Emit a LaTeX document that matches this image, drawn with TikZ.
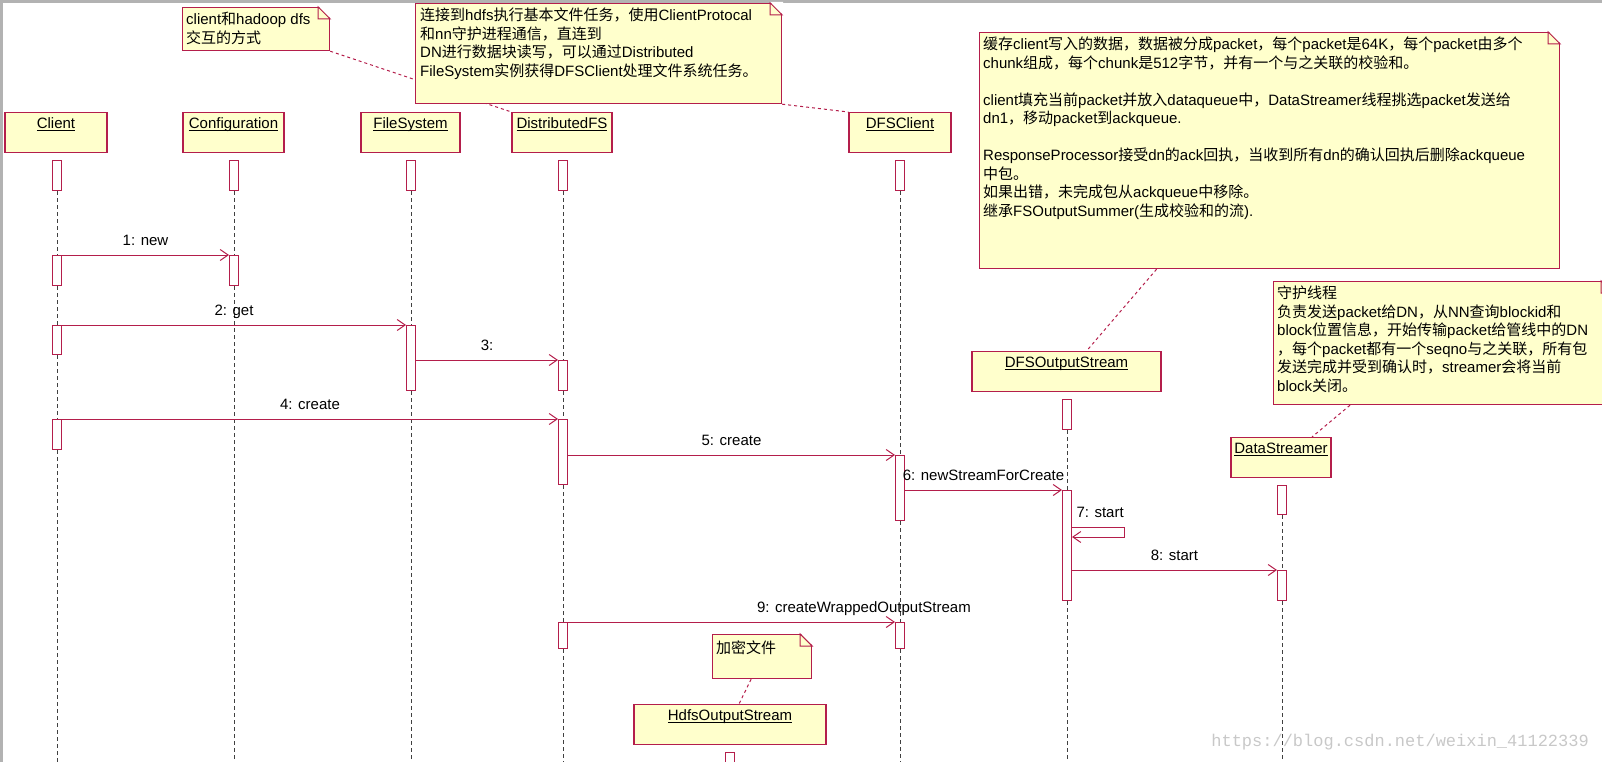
\documentclass[tikz,border=0pt]{standalone}
\usepackage{fontspec}
\setmainfont{Liberation Sans}
\newfontfamily\cjk{Noto Sans CJK SC}
\newfontfamily\latn{Liberation Sans}
\newfontfamily\wmfont{Liberation Mono}
\usepackage{xcolor}
\usepackage{tikz}
\usetikzlibrary{arrows.meta,calc}

% Chinese characters go to the CJK font, the rest stays Arial-like
\newXeTeXintercharclass\cjkclass
\newcount\cjkcount
\def\cjkrange#1#2{\cjkcount=#1\relax
  \loop\XeTeXcharclass\cjkcount=\cjkclass
  \advance\cjkcount by 1\relax
  \ifnum\cjkcount<#2\repeat}
\cjkrange{"3000}{"3040}
\cjkrange{"4E00}{"A000}
\cjkrange{"FF00}{"FFF0}
\XeTeXinterchartoks 0 \cjkclass = {\cjk}
\XeTeXinterchartoks 4095 \cjkclass = {\cjk}
\XeTeXinterchartoks \cjkclass 0 = {\latn}
\XeTeXinterchartoks \cjkclass 4095 = {\latn}
\XeTeXinterchartokenstate=1

\definecolor{umlred}{RGB}{180,30,75}
\definecolor{noteyellow}{RGB}{255,255,204}
\definecolor{wmgray}{RGB}{200,200,200}
\newcommand{\umlfont}{\fontsize{15pt}{18.5pt}\selectfont}

\begin{document}
\begin{tikzpicture}[x=1pt, y=-1pt,
    objhead/.style={draw=umlred, fill=noteyellow, line width=1.2pt, anchor=north, inner sep=0pt,
        minimum height=40pt, text height=16pt, text depth=24pt, font=\umlfont},
    act/.style={draw=umlred, fill=white, line width=1pt, anchor=north, inner sep=0pt, minimum width=9pt},
    life/.style={draw=black!75, line width=1pt, dash pattern=on 3.5pt off 3.5pt},
    msg/.style={draw=umlred, line width=1pt, -{Straight Barb[length=8pt,width=11pt]}},
    msglabel/.style={above=5pt, inner sep=1pt, text height=11pt, text depth=3pt, font=\umlfont, text=black},
    umlnote/.style={draw=umlred, fill=noteyellow, line width=1.2pt, anchor=north west, inner sep=0pt},
    notetext/.style={anchor=north west, align=left, inner sep=0pt, font=\umlfont},
    notelink/.style={draw=umlred, line width=1pt, dash pattern=on 3pt off 3pt}]
    \useasboundingbox (0,0) rectangle (1602,762);
    \coordinate (bot) at (0,770);

    % Window frame
    \draw[gray!60, line width=3pt] (1.5,762) -- (1.5,1.5) -- (1602,1.5);

    % Object heads
    \node[objhead, minimum width=102pt] (hCL) at (56,112) {\underline{\smash{Client}}};
    \node[objhead, minimum width=101pt] (hCF) at (233.5,112) {\underline{\smash{Configuration}}};
    \node[objhead, minimum width=99pt] (hFS) at (410.5,112) {\underline{\smash{FileSystem}}};
    \node[objhead, minimum width=100pt] (hDF) at (562,112) {\underline{\smash{DistributedFS}}};
    \node[objhead, minimum width=102pt] (hDC) at (900,112) {\underline{\smash{DFSClient}}};
    \node[objhead, minimum width=189pt] (hOS) at (1066.5,351) {\underline{\smash{DFSOutputStream}}};
    \node[objhead, minimum width=100pt] (hDS) at (1281,437) {\underline{\smash{DataStreamer}}};
    \node[objhead, minimum width=192pt] (hHO) at (730,704) {\underline{\smash{HdfsOutputStream}}};

    % Activations
    \node[act, minimum height=30pt] (cl0) at (57,160) {};
    \node[act, minimum height=30pt] (cl1) at (57,255) {};
    \node[act, minimum height=29pt] (cl2) at (57,325) {};
    \node[act, minimum height=30pt] (cl3) at (57,419) {};
    \node[act, minimum height=30pt] (cf0) at (234,160) {};
    \node[act, minimum height=30pt] (cf1) at (234,255) {};
    \node[act, minimum height=30pt] (fs0) at (411,160) {};
    \node[act, minimum height=65pt] (fs1) at (411,325) {};
    \node[act, minimum height=30pt] (df0) at (563,160) {};
    \node[act, minimum height=30pt] (df1) at (563,360) {};
    \node[act, minimum height=65pt] (df2) at (563,419) {};
    \node[act, minimum height=26pt] (df3) at (563,622) {};
    \node[act, minimum height=30pt] (dc0) at (900,160) {};
    \node[act, minimum height=65pt] (dc1) at (900,455) {};
    \node[act, minimum height=26pt] (dc2) at (900,622) {};
    \node[act, minimum height=30pt] (os0) at (1067,399) {};
    \node[act, minimum height=110pt] (os1) at (1067,490) {};
    \node[act, minimum height=29pt] (ds0) at (1282,485) {};
    \node[act, minimum height=30pt] (ds1) at (1282,570) {};
    \node[act, minimum height=30pt] (ho0) at (730,752) {};

    % Lifelines
    \draw[life] (cl0.south) -- (cl1.north) (cl1.south) -- (cl2.north) (cl2.south) -- (cl3.north) (cl3.south) -- (cl3.south |- bot);
    \draw[life] (cf0.south) -- (cf1.north) (cf1.south) -- (cf1.south |- bot);
    \draw[life] (fs0.south) -- (fs1.north) (fs1.south) -- (fs1.south |- bot);
    \draw[life] (df0.south) -- (df1.north) (df1.south) -- (df2.north) (df2.south) -- (df3.north) (df3.south) -- (df3.south |- bot);
    \draw[life] (dc0.south) -- (dc1.north) (dc1.south) -- (dc2.north) (dc2.south) -- (dc2.south |- bot);
    \draw[life] (os0.south) -- (os1.north) (os1.south) -- (os1.south |- bot);
    \draw[life] (ds0.south) -- (ds1.north) (ds1.south) -- (ds1.south |- bot);

    % Messages
    \draw[msg] (cl1.north east) -- node[msglabel] {1: new} (cf1.north west);
    \draw[msg] (cl2.north east) -- node[msglabel] {2: get} (fs1.north west);
    \draw[msg] (fs1.east |- df1.north) -- node[msglabel] {3:} (df1.north west);
    \draw[msg] (cl3.north east) -- node[msglabel] {4: create} (df2.north west);
    \draw[msg] (df2.east |- dc1.north) -- node[msglabel] {5: create} (dc1.north west);
    \draw[msg] (dc1.east |- os1.north) -- node[msglabel] {6: newStreamForCreate} (os1.north west);
    \draw[msg] ([yshift=-37pt]os1.north east) node[msglabel, anchor=south west, xshift=3pt] {7: start}
        -- ++(52,0) -- ++(0,10) -- ([yshift=-47pt]os1.north east);
    \draw[msg] (os1.east |- ds1.north) -- node[msglabel] {8: start} (ds1.north west);
    \draw[msg] (df3.north east) -- node[msglabel, pos=0.905] {9: createWrappedOutputStream} (dc2.north west);

    % Notes and their links
    \node[umlnote, minimum width=147pt, minimum height=43pt] (n1) at (182,7) {};
    \draw[notelink] (n1.south east) -- (hDF.north west);
    \node[umlnote, minimum width=366pt, minimum height=100pt] (n2) at (415,3) {};
    \draw[notelink] (n2.south east) -- (hDC.north west);
    \node[umlnote, minimum width=580pt, minimum height=236pt] (n3) at (979,32) {};
    \draw[notelink] ([xshift=-113pt]n3.south) -- ([xshift=20pt]hOS.north);
    \node[umlnote, minimum width=339pt, minimum height=123pt] (n4) at (1273,281) {};
    \draw[notelink] ([xshift=77pt]n4.south west) -- ([xshift=31pt]hDS.north);
    \node[umlnote, minimum width=99pt, minimum height=44pt] (n5) at (712,634) {};
    \draw[notelink] ([xshift=-11pt]n5.south) -- ([xshift=9pt]hHO.north);

    % Folded corners
    \foreach \n in {n1,n2,n3,n4,n5} {
        \fill[white] ([xshift=-12pt,yshift=1pt]\n.north east) -- ([xshift=1pt,yshift=1pt]\n.north east)
            -- ([xshift=1pt,yshift=-12pt]\n.north east) -- cycle;
        \draw[umlred, line width=1pt] ([xshift=-12pt]\n.north east) -- ([yshift=-12pt]\n.north east)
            -- ([xshift=-12pt,yshift=-12pt]\n.north east) -- cycle;
    }

    % Note texts
    \node[notetext] (t1) at ([xshift=4pt,yshift=-5pt]n1.north west) {client和hadoop dfs\\交互的方式};
    \node[notetext] (t2) at ([xshift=5pt,yshift=-5pt]n2.north west)
        {连接到hdfs执行基本文件任务，使用ClientProtocal\\和nn守护进程通信，直连到\\DN进行数据块读写，可以通过Distributed\\FileSystem实例获得DFSClient处理文件系统任务。};
    \node[notetext] (t3) at ([xshift=4pt,yshift=-5pt]n3.north west)
        {缓存client写入的数据，数据被分成packet，每个packet是64K，每个packet由多个\\chunk组成，每个chunk是512字节，并有一个与之关联的校验和。\\[18.5pt]client填充当前packet并放入dataqueue中，DataStreamer线程挑选packet发送给\\dn1，移动packet到ackqueue.\\[18.5pt]ResponseProcessor接受dn的ack回执，当收到所有dn的确认回执后删除ackqueue\\中包。\\如果出错，未完成包从ackqueue中移除。\\继承FSOutputSummer(生成校验和的流).};
    \node[notetext] (t4) at ([xshift=4pt,yshift=-5pt]n4.north west)
        {守护线程\\负责发送packet给DN，从NN查询blockid和\\block位置信息，开始传输packet给管线中的DN\\，每个packet都有一个seqno与之关联，所有包\\发送完成并受到确认时，streamer会将当前\\block关闭。};
    \node[notetext] (t5) at ([xshift=4pt,yshift=-7pt]n5.north west) {加密文件};

    % Watermark
    \node[anchor=east, inner sep=0pt, text=wmgray, font=\wmfont\fontsize{17pt}{17pt}\selectfont] (wm) at (1589,742) {https://blog.csdn.net/weixin\_41122339};
\end{tikzpicture}
\end{document}
